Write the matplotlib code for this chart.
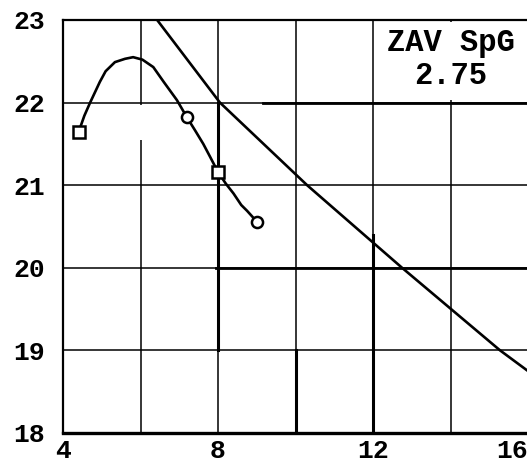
import matplotlib
matplotlib.use("Agg")
import matplotlib.pyplot as plt
from matplotlib.patches import Rectangle

# compaction test points (moisture %, dry unit weight kN/m3)
test_w = [4.4, 7.2, 8.0, 9.0]
test_gd = [21.64, 21.82, 21.16, 20.56]
test_marker = ["s", "o", "s", "o"]

# hand-drawn compaction curve through the test points
curve_w = [4.4, 4.55, 4.7, 4.85, 4.95, 5.1, 5.34, 5.6, 5.81, 6.05, 6.33,
           6.6, 6.94, 7.2, 7.4, 7.62, 7.8, 8.0, 8.2, 8.4, 8.6, 8.75, 9.0]
curve_gd = [21.64, 21.84, 22.0, 22.15, 22.25, 22.38, 22.49, 22.53, 22.55,
            22.52, 22.43, 22.25, 22.03, 21.82, 21.67, 21.5, 21.34, 21.16,
            21.02, 20.9, 20.76, 20.69, 20.56]

# zero air voids line, Gs = 2.75
zav_w = [6.43, 8.05, 10.3, 12.75, 15.28, 16.0]
zav_gd = [23.0, 22.0, 21.0, 20.0, 19.0, 18.75]

x_ticks = [4, 8, 12, 16]
y_ticks = [18, 19, 20, 21, 22, 23]
grid_x = [6, 8, 10, 12, 14]
grid_y = [19, 20, 21, 22]

fig = plt.figure(figsize=(5.27, 4.65), dpi=100)
ax = fig.add_axes([63 / 527, 32 / 465, 465 / 527, 413 / 465])
ax.set_xlim(4, 16)
ax.set_ylim(18, 23)

for gx in grid_x:
    ax.axvline(gx, color="black", lw=1.1, zorder=1)
for gy in grid_y:
    ax.axhline(gy, color="black", lw=1.1, zorder=1)

# heavier pen strokes on some of the grid
ax.axvline(8, ymin=0.2, ymax=0.8, color="black", lw=2.2, zorder=1)
ax.axvline(12, ymin=0.0, ymax=0.48, color="black", lw=2.2, zorder=1)
ax.axvline(10, ymin=0.0, ymax=0.2, color="black", lw=2.2, zorder=1)
ax.axhline(22, xmin=0.43, xmax=1.0, color="black", lw=2.0, zorder=1)
ax.axhline(20, xmin=0.33, xmax=1.0, color="black", lw=2.0, zorder=1)
# gap in the 6 line below 22
ax.add_patch(Rectangle((5.9, 21.55), 0.2, 0.42, facecolor="white",
                       edgecolor="none", zorder=1.5))

ax.plot(curve_w, curve_gd, color="black", lw=1.9, zorder=3,
        solid_joinstyle="round")
for w, gd, m in zip(test_w, test_gd, test_marker):
    ax.plot(w, gd, marker=m, ms=8, mfc="white", mec="black", mew=1.8,
            zorder=4)
ax.plot(zav_w, zav_gd, color="black", lw=1.9, zorder=3)

# label box in the top right cell
ax.add_patch(Rectangle((12.04, 22.03), 3.96, 0.95, facecolor="white",
                       edgecolor="none", zorder=2))
ax.text(14.0, 22.52, "ZAV SpG\n2.75", ha="center", va="center",
        family="Liberation Mono", fontsize=22, fontweight="bold",
        linespacing=1.1, zorder=5)

for side in ["left", "top"]:
    ax.spines[side].set_linewidth(1.6)
ax.spines["bottom"].set_linewidth(2.4)
ax.spines["right"].set_visible(False)

ax.set_xticks(x_ticks)
ax.set_yticks(y_ticks)
ax.tick_params(length=0)
ax.tick_params(axis="y", pad=13)
ax.tick_params(axis="x", pad=4)
for lab in ax.get_xticklabels() + ax.get_yticklabels():
    lab.set_family("Liberation Mono")
    lab.set_fontweight("bold")
    lab.set_fontsize(19)
ax.get_xticklabels()[-1].set_horizontalalignment("right")

fig.savefig("out.png", dpi=100)
